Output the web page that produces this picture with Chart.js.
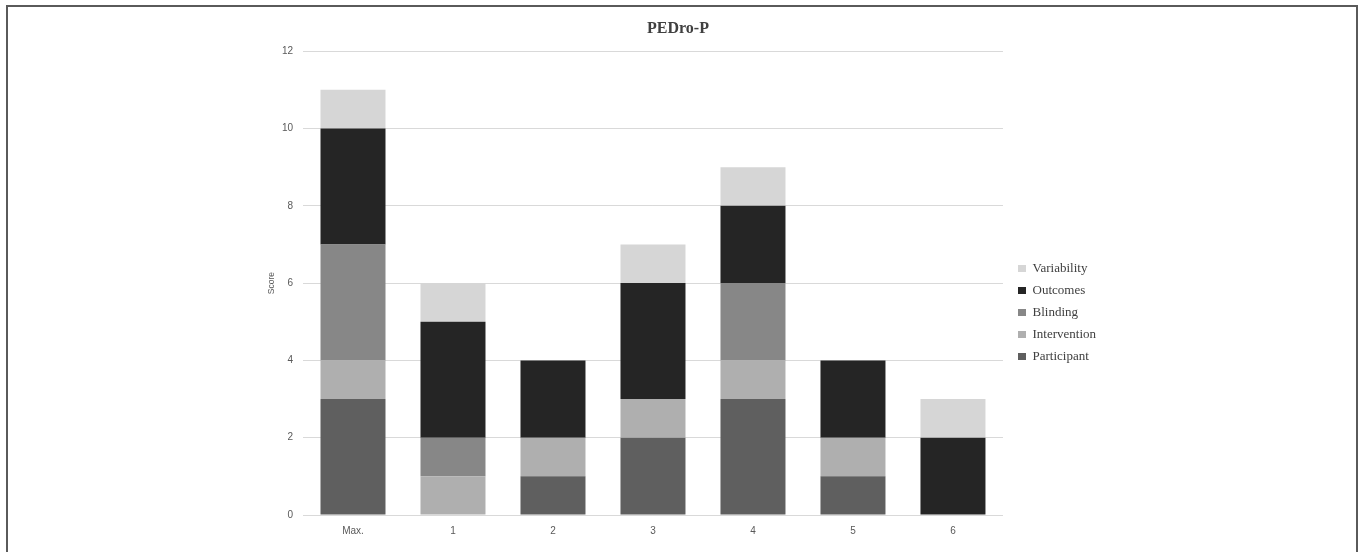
<!DOCTYPE html>
<html lang="en">
  <head>
    <meta charset="UTF-8" />
    <title>PEDro-P</title>
    <script src="https://cdn.jsdelivr.net/npm/chart.js/dist/chart.umd.min.js"></script>
    <style>
      body {
        margin: 0;
        background: #fff;
        overflow: hidden;
      }
      .wrap {
        position: relative;
        width: 1360px;
        height: 552px;
      }
      .frame {
        position: absolute;
        left: 6px;
        top: 5px;
        width: 1348px;
        height: 600px;
        border: 2px solid #5a5a5a;
        border-bottom: none;
        pointer-events: none;
      }
    </style>
  </head>
  <body>
    <div class="wrap">
      <canvas id="scoreChart"></canvas>
      <div class="frame"></div>
    </div>
    <script>
      // studies on the x axis
      const studies = ["Max.", "1", "2", "3", "4", "5", "6"];

      // PEDro-P items, one value per study
      const participant = [3, 0, 1, 2, 3, 1, 0];
      const intervention = [1, 1, 1, 1, 1, 1, 0];
      const blinding = [3, 1, 0, 0, 2, 0, 0];
      const outcomes = [3, 3, 2, 3, 2, 2, 2];
      const variability = [1, 1, 0, 1, 1, 0, 1];

      const itemNames = ["Participant", "Intervention", "Blinding", "Outcomes", "Variability"];
      const itemColors = ["#5f5f5f", "#afafaf", "#878787", "#252525", "#d6d6d6"];
      const itemValues = [participant, intervention, blinding, outcomes, variability];

      const AREA_RIGHT = 1003;

      // moves the title and legend to where the original figure has them
      const placeBoxes = {
        id: "placeBoxes",
        afterLayout(chart) {
          const lg = chart.legend;
          if (lg) {
            const w = lg.width, h = lg.height;
            lg.left = 1009;
            lg.right = lg.left + w;
            lg.top = 253;
            lg.bottom = lg.top + h;
          }
          const tb = chart.titleBlock;
          if (tb) {
            tb.left = 0;
            tb.right = 1356;
          }
        },
      };

      const datasets = itemNames.map((name, i) => ({
        label: name,
        data: itemValues[i],
        backgroundColor: itemColors[i],
        borderWidth: 0,
        categoryPercentage: 1,
        barPercentage: 0.65,
      }));

      const chart = new Chart(document.getElementById("scoreChart"), {
        type: "bar",
        data: { labels: studies, datasets: datasets },
        plugins: [placeBoxes],
        options: {
          responsive: true,
          maintainAspectRatio: false,
          animation: false,
          layout: { padding: { left: 243, right: 250, top: 0, bottom: 7 } },
          plugins: {
            title: {
              display: true,
              text: "PEDro-P",
              color: "#404040",
              font: { family: "'Liberation Serif', serif", size: 16, weight: "bold" },
              padding: { top: 19, bottom: 13 },
            },
            legend: {
              position: "right",
              align: "start",
              reverse: true,
              labels: {
                boxWidth: 8,
                boxHeight: 7,
                padding: 9,
                color: "#404040",
                font: { family: "'Liberation Serif', serif", size: 13 },
              },
            },
            tooltip: { enabled: false },
          },
          scales: {
            x: {
              stacked: true,
              grid: { display: false },
              border: { display: false },
              ticks: {
                color: "#595959",
                padding: 2,
                font: { family: "'Liberation Sans', sans-serif", size: 10 },
              },
              afterFit: (s) => { s.height = 30; },
            },
            y: {
              stacked: true,
              min: 0,
              max: 12,
              grid: { color: "#d9d9d9", drawTicks: false },
              border: { display: false },
              ticks: {
                stepSize: 2,
                color: "#595959",
                padding: 10,
                font: { family: "'Liberation Sans', sans-serif", size: 10 },
              },
              title: {
                display: true,
                text: "Score",
                color: "#595959",
                padding: { top: 24, bottom: 0 },
                font: { family: "'Liberation Sans', sans-serif", size: 8.5 },
              },
              afterFit: (s) => { s.width = 60; },
            },
          },
        },
      });

      // fit the plot area's right edge to the original
      chart.options.layout.padding.right += Math.round(chart.chartArea.right - AREA_RIGHT);
      chart.update("none");
    </script>
  </body>
</html>
